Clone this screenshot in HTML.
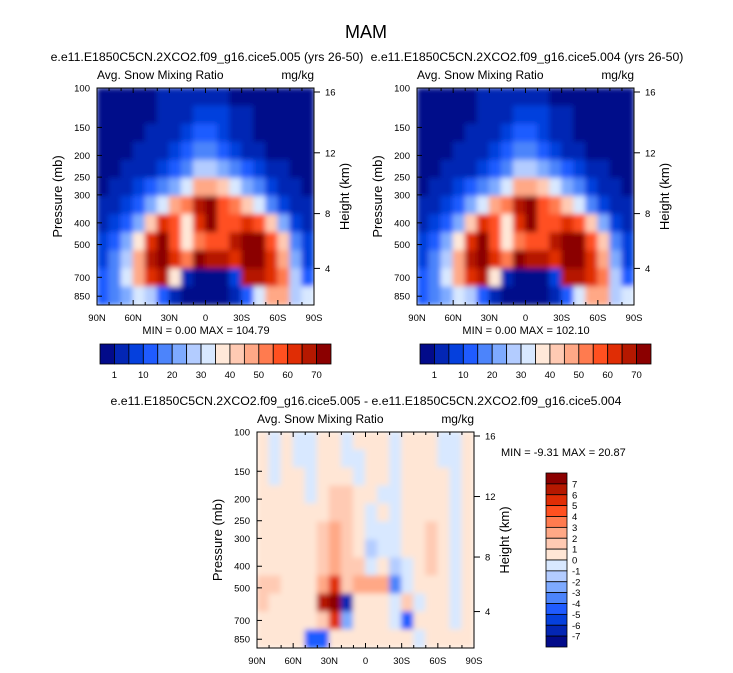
<!DOCTYPE html>
<html><head><meta charset="utf-8">
<style>
body{margin:0;background:#fff;}
svg{display:block;font-family:"Liberation Sans",Arial,sans-serif;}
</style></head>
<body>
<svg id="chart" width="733" height="673" viewBox="0 0 733 673" xmlns="http://www.w3.org/2000/svg">
<defs>
<filter id="blur" x="-5%" y="-5%" width="110%" height="110%"><feGaussianBlur stdDeviation="2.6"/></filter>
<clipPath id="clipA"><rect x="97" y="88" width="217" height="217"/></clipPath>
<clipPath id="clipB"><rect x="417" y="88" width="217" height="217"/></clipPath>
<clipPath id="clipC"><rect x="257" y="432" width="217" height="216"/></clipPath>
</defs>
<text x="366" y="38" font-size="18" text-anchor="middle">MAM</text>
</svg>
<script>
// ---- data (color-level indices, rows top(100mb)->bottom, cols 90N->90S every 10deg) ----
const latLabels = ["90N","60N","30N","0","30S","60S","90S"];
const presTicks = [100,150,200,250,300,400,500,700,850];
const heightTicks = [16,12,8,4];
const topLevels = ["1","10","20","30","40","50","60","70"];
const diffLevels = ["7","6","5","4","3","2","1","0","-1","-2","-3","-4","-5","-6","-7"];
const fieldA = [
[0,0,0,0,0,1,1,1,1,1,1,0,0,0,0,0,0,0],
[0,0,0,0,0,1,1,1,2,2,2,1,1,0,0,0,0,0],
[0,0,0,0,1,1,1,2,3,3,2,1,1,0,0,0,0,0],
[0,0,0,1,1,1,2,3,4,4,3,2,1,1,0,0,0,0],
[0,0,1,1,1,2,3,4,6,6,5,4,3,2,1,1,0,0],
[0,1,1,2,3,4,5,7,10,10,9,7,5,4,2,1,1,0],
[1,1,2,3,5,7,10,11,14,15,12,11,9,7,4,2,1,1],
[1,2,3,5,9,13,12,8,13,15,12,12,13,12,9,5,2,1],
[2,3,5,8,13,15,12,8,11,12,12,14,15,15,12,9,4,2],
[2,4,6,10,14,15,13,11,15,14,14,13,15,15,13,10,5,2],
[3,4,7,10,13,14,8,1,0,0,0,2,14,14,13,11,6,3],
[3,4,5,7,6,3,1,0,0,0,0,1,3,7,10,10,6,7]];
const fieldB = [
[0,0,0,0,0,1,1,1,1,1,1,0,0,0,0,0,0,0],
[0,0,0,0,0,1,1,1,2,2,2,1,1,0,0,0,0,0],
[0,0,0,0,1,1,1,2,3,3,2,1,1,0,0,0,0,0],
[0,0,0,1,1,1,2,3,4,4,3,2,1,1,0,0,0,0],
[0,0,1,1,1,2,3,4,6,6,5,4,3,2,1,1,0,0],
[0,1,1,2,3,4,5,7,10,10,9,7,5,4,2,1,1,0],
[1,1,2,3,5,7,10,11,14,15,12,11,9,7,4,2,1,1],
[1,2,3,5,9,13,12,8,13,15,12,12,13,12,9,5,2,1],
[2,3,5,8,13,15,12,8,11,12,12,14,15,15,12,9,4,2],
[2,4,6,10,14,15,13,11,15,14,14,13,15,15,13,10,5,2],
[3,4,7,10,13,14,8,1,0,0,0,2,14,14,13,11,6,3],
[3,4,5,7,6,3,1,0,0,0,0,1,3,7,10,10,6,7]];
const fieldDiff = [
[8,7,8,7,7,8,8,7,8,8,8,7,8,8,8,7,7,8],
[8,7,8,7,7,8,8,7,7,8,8,7,8,8,8,7,7,8],
[8,7,8,8,7,8,8,8,7,8,8,7,8,8,8,8,7,8],
[8,8,8,8,7,8,9,9,8,8,7,7,8,8,8,8,7,8],
[8,8,8,8,8,8,9,9,8,7,8,7,8,8,8,8,7,8],
[8,8,8,8,8,9,10,9,8,7,7,7,8,8,9,8,7,8],
[8,8,8,8,8,9,10,9,8,6,7,7,8,8,9,8,7,8],
[8,8,8,8,8,9,10,9,9,7,8,6,7,8,9,8,7,8],
[9,9,8,8,8,10,13,9,10,10,10,4,7,8,8,8,7,8],
[9,8,8,8,8,14,15,1,8,8,8,7,9,7,8,8,7,8],
[8,8,8,8,8,9,13,5,8,8,8,7,3,8,8,8,7,8],
[8,8,8,8,3,3,8,8,8,8,8,8,8,7,8,8,8,8]];
const topColors = ["#020b8a","#0326b4","#0540dd","#1f5bff","#4c84fb","#7eaaff","#b3ccff","#d8e8ff","#ffe8d8","#ffcab3","#ffa886","#ff7b4f","#ff5020","#e02d05","#b51800","#8b0000"];
const diffColors = ["#020b8a","#0326b4","#0540dd","#1f5bff","#4c84fb","#7eaaff","#b3ccff","#d8e8ff","#ffe6d5","#ffcab3","#ffa886","#ff7b4f","#ff5020","#e02d05","#b51800","#8b0000"];

const NS="http://www.w3.org/2000/svg";
const svg=document.getElementById("chart");
function mk(tag,attrs,parent){const e=document.createElementNS(NS,tag);for(const k in attrs)e.setAttribute(k,attrs[k]);(parent||svg).appendChild(e);return e;}
function txt(x,y,s,size,anchor,parent){const t=mk("text",{x:x,y:y,"font-size":size,"text-anchor":anchor||"start"},parent);t.textContent=s;return t;}

function panel(px,py,w,h,field,colors,clip,title,tx){
  const g=mk("g",{});
  
  
  const nr=field.length,nc=field[0].length;
  const xs=c=>px+c*w/nc, ys=r=>py+r*h/nr;
  const cg=mk("g",{"clip-path":"url(#"+clip+")"},g);
  const fg=mk("g",{filter:"url(#blur)"},cg);
  for(let r=0;r<nr;r++)for(let c=0;c<nc;c++){
    const cell=mk("rect",{x:xs(c)-0.5,y:ys(r)-0.5,width:w/nc+1,height:h/nr+1,fill:colors[field[r][c]]},fg);
    
    
  }
  const fr=mk("rect",{x:px,y:py,width:w,height:h,fill:"none",stroke:"#000","stroke-width":1},g);
  
  
  for(let i=0;i<=18;i++){const x=px+i*w/18;mk("line",{x1:x,x2:x,y1:py+h,y2:py+h-(i%3==0?5:3),stroke:"#000"},g);mk("line",{x1:x,x2:x,y1:py,y2:py+(i%3==0?5:3),stroke:"#000"},g);}
  latLabels.forEach((s,i)=>{const t=txt(px+i*w/6,py+h+16,s,9.5,"middle",g);
    
    });
  const pY=p=>py+(Math.log10(p)-2)*224*(h/217);
  presTicks.forEach(p=>{const y=pY(p);mk("line",{x1:px,x2:px+5,y1:y,y2:y,stroke:"#000"},g);
    const t=txt(px-7,y+3.5,String(p),9.5,"end",g);
    
    });
  const hY=k=>py+(16-k)*15.2*(h/217)+4-(k<8?(8-k)*1.5:0);
  heightTicks.forEach(k=>{const y=hY(k);mk("line",{x1:px+w,x2:px+w+6,y1:y,y2:y,stroke:"#000"},g);
    const t=txt(px+w+11,y+3.5,String(k),9.5,"start",g);
    
    });
  const l=txt(px,py-9,"Avg. Snow Mixing Ratio",12,"start",g);
  
  
  const u=txt(px+w,py-9,"mg/kg",12,"end",g);
  
  
  const yt=txt(0,0,"Pressure (mb)",13,"middle",g);yt.setAttribute("transform","translate("+(px-35)+","+(py+h/2)+") rotate(-90)");
  
  
  const ht=txt(0,0,"Height (km)",13,"middle",g);ht.setAttribute("transform","translate("+(px+w+35)+","+(py+h/2)+") rotate(-90)");
  
  
  const tt=txt(tx,py-27,title,12.3,"middle",g);
  
  
}
function hbar(x,y,w,h,colors,labels,minmax,mx){
  const g=mk("g",{});
  
  
  const bw=w/colors.length;
  colors.forEach((c,i)=>{const r=mk("rect",{x:x+i*bw,y:y,width:bw,height:h,fill:c,stroke:"#000","stroke-width":0.8},g);
    
    });
  labels.forEach((s,i)=>{const t=txt(x+(2*i+1)*bw,y+h+14,s,9.5,"middle",g);
    
    });
  const m=txt(mx,y-10,minmax,11,"middle",g);
  
  
}
panel(97,88,217,217,fieldA,topColors,"clipA","e.e11.E1850C5CN.2XCO2.f09_g16.cice5.005 (yrs 26-50)",207);
panel(417,88,217,217,fieldB,topColors,"clipB","e.e11.E1850C5CN.2XCO2.f09_g16.cice5.004 (yrs 26-50)",527);
panel(257,432,217,216,fieldDiff,diffColors,"clipC","e.e11.E1850C5CN.2XCO2.f09_g16.cice5.005 - e.e11.E1850C5CN.2XCO2.f09_g16.cice5.004",366);
hbar(100,344,231,20,topColors,topLevels,"MIN =   0.00  MAX = 104.79",206);
hbar(420,344,231,20,topColors,topLevels,"MIN =   0.00  MAX = 102.10",526);
(function(){
  const g=mk("g",{});
  
  
  const x=546,y=473,w=21,h=174,bh=h/diffColors.length;
  diffColors.slice().reverse().forEach((c,i)=>{const r=mk("rect",{x:x,y:y+i*bh,width:w,height:bh,fill:c,stroke:"#000","stroke-width":0.8},g);
    
    });
  diffLevels.forEach((s,i)=>{const t=txt(x+w+5,y+(i+1)*bh+3.5,s,9.5,"start",g);
    
    });
  const m=txt(501,456,"MIN =  -9.31  MAX =  20.87",11,"start",g);
  
  
})();
</script>
</body></html>
